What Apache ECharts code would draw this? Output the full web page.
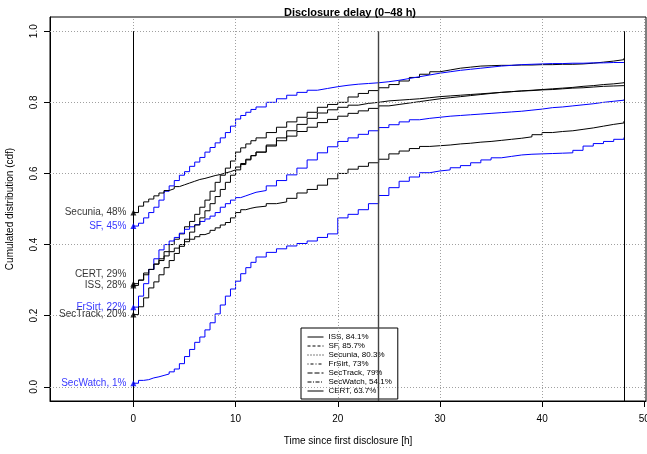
<!DOCTYPE html>
<html>
<head>
<meta charset="utf-8">
<script src="https://cdn.jsdelivr.net/npm/echarts@6/dist/echarts.min.js"></script>
<style>
  html, body { margin: 0; padding: 0; background: #fff; }
  #chart { width: 647px; height: 454px; }
</style>
</head>
<body>
<div id="chart"></div>
<script>
// hours since first disclosure
const hours = [0, 0.5, 1, 1.5, 2, 2.5, 3, 3.5, 4, 4.5, 5, 5.5, 6, 6.5, 7, 7.5, 8, 8.5, 9, 9.5, 10, 10.5, 11, 11.5, 12,
  13, 14, 15, 16, 17, 18, 19, 20, 21, 22, 23, 24,
  25, 26, 27, 28, 29, 30, 31, 32, 33, 34, 35, 36, 37, 38, 39, 40, 41, 42, 43, 44, 45, 46, 47, 48];

const names = ['ISS', 'SF', 'Secunia', 'FrSirt', 'SecTrack', 'SecWatch', 'CERT'];
const pctAtZero = [28, 45, 48, 22, 20, 1, 29];
const pctAt24 = ['84.1', '85.7', '80.3', '73', '79', '54.1', '63.7'];

const issCdf = [0.285, 0.30, 0.32, 0.33, 0.345, 0.36, 0.38, 0.40, 0.415, 0.43, 0.45, 0.465, 0.485, 0.505, 0.525, 0.55, 0.575, 0.595, 0.615, 0.635, 0.66, 0.672, 0.683, 0.692, 0.70,
  0.715, 0.73, 0.745, 0.758, 0.772, 0.786, 0.794, 0.80, 0.815, 0.825, 0.833, 0.841,
  0.85, 0.86, 0.87, 0.879, 0.886, 0.891, 0.896, 0.899, 0.902, 0.903, 0.904, 0.904, 0.905, 0.905, 0.906, 0.906, 0.907, 0.907, 0.908, 0.91, 0.913, 0.916, 0.92, 0.924];
const sfCdf = [0.452, 0.46, 0.475, 0.49, 0.505, 0.525, 0.55, 0.565, 0.58, 0.595, 0.605, 0.62, 0.632, 0.645, 0.66, 0.673, 0.686, 0.70, 0.715, 0.733, 0.753, 0.763, 0.772, 0.78, 0.787,
  0.80, 0.81, 0.82, 0.828, 0.834, 0.839, 0.844, 0.848, 0.851, 0.853, 0.855, 0.858,
  0.862, 0.867, 0.872, 0.877, 0.882, 0.886, 0.89, 0.893, 0.896, 0.899, 0.902, 0.904, 0.906, 0.907, 0.908, 0.909, 0.909, 0.91, 0.91, 0.911, 0.911, 0.912, 0.912, 0.913];
const secuniaCdf = [0.49, 0.508, 0.52, 0.528, 0.537, 0.545, 0.552, 0.557, 0.563, 0.568, 0.573, 0.578, 0.583, 0.586, 0.59, 0.594, 0.597, 0.601, 0.605, 0.61, 0.618, 0.628, 0.64, 0.65, 0.66,
  0.68, 0.70, 0.72, 0.738, 0.755, 0.77, 0.779, 0.786, 0.792, 0.797, 0.80, 0.804,
  0.806, 0.808, 0.81, 0.813, 0.816, 0.818, 0.82, 0.822, 0.824, 0.826, 0.828, 0.83, 0.832, 0.833, 0.835, 0.836, 0.838, 0.84, 0.841, 0.843, 0.845, 0.846, 0.847, 0.848];
const frsirtCdf = [0.224, 0.255, 0.29, 0.33, 0.36, 0.385, 0.40, 0.41, 0.42, 0.432, 0.443, 0.45, 0.456, 0.465, 0.472, 0.48, 0.49, 0.505, 0.515, 0.525, 0.532, 0.537, 0.542, 0.547, 0.552,
  0.565, 0.58, 0.596, 0.615, 0.638, 0.658, 0.675, 0.69, 0.70, 0.71, 0.72, 0.729,
  0.737, 0.745, 0.751, 0.755, 0.758, 0.761, 0.763, 0.765, 0.767, 0.769, 0.771, 0.773, 0.775, 0.778, 0.781, 0.785, 0.787, 0.79, 0.793, 0.796, 0.80, 0.803, 0.806, 0.808];
const sectrackCdf = [0.203, 0.225, 0.25, 0.278, 0.295, 0.315, 0.335, 0.355, 0.375, 0.395, 0.415, 0.435, 0.455, 0.475, 0.495, 0.515, 0.535, 0.555, 0.575, 0.595, 0.61, 0.625, 0.638, 0.65, 0.66,
  0.677, 0.692, 0.705, 0.718, 0.73, 0.743, 0.752, 0.761, 0.769, 0.776, 0.783, 0.79,
  0.794, 0.798, 0.802, 0.806, 0.81, 0.813, 0.816, 0.819, 0.822, 0.825, 0.828, 0.83, 0.832, 0.834, 0.836, 0.838, 0.84, 0.842, 0.845, 0.847, 0.85, 0.852, 0.855, 0.857];
const secwatchCdf = [0.01, 0.018, 0.02, 0.025, 0.028, 0.032, 0.036, 0.042, 0.05, 0.065, 0.085, 0.105, 0.125, 0.14, 0.16, 0.18, 0.205, 0.23, 0.255, 0.275, 0.297, 0.318, 0.335, 0.35, 0.365,
  0.378, 0.388, 0.396, 0.403, 0.41, 0.42, 0.43, 0.475, 0.485, 0.498, 0.515, 0.538,
  0.56, 0.578, 0.59, 0.602, 0.607, 0.61, 0.616, 0.622, 0.63, 0.638, 0.644, 0.648, 0.652, 0.654, 0.655, 0.656, 0.657, 0.658, 0.665, 0.677, 0.684, 0.69, 0.696, 0.701];
const certCdf = [0.29, 0.30, 0.315, 0.33, 0.345, 0.355, 0.368, 0.38, 0.39, 0.40, 0.408, 0.415, 0.422, 0.428, 0.433, 0.44, 0.447, 0.455, 0.462, 0.475, 0.49, 0.498, 0.502, 0.505, 0.508,
  0.515, 0.52, 0.53, 0.545, 0.555, 0.567, 0.585, 0.60, 0.612, 0.62, 0.63, 0.64,
  0.655, 0.663, 0.67, 0.676, 0.678, 0.68, 0.683, 0.685, 0.688, 0.69, 0.693, 0.696, 0.699, 0.703, 0.709, 0.715, 0.718, 0.72, 0.724, 0.728, 0.733, 0.738, 0.742, 0.747];

const cdfs = [issCdf, sfCdf, secuniaCdf, frsirtCdf, sectrackCdf, secwatchCdf, certCdf];

const xTicks = [0, 10, 20, 30, 40, 50];
const yTicks = [0, 0.2, 0.4, 0.6, 0.8, 1.0];
const markHours = [0, 24, 48];

// styles
const BLUE = '#0000ff';
const colors = { ISS: '#000', SF: BLUE, Secunia: '#000', FrSirt: BLUE, SecTrack: '#000', SecWatch: BLUE, CERT: '#000' };
const legendDash = {
  ISS: 'solid', SF: [3, 2], Secunia: [1, 2], FrSirt: [1, 2, 3, 2],
  SecTrack: [5, 2], SecWatch: [4, 1.5, 1, 1.5], CERT: 'solid'
};
const labelShift = { CERT: -9 };
const FONT = '"Liberation Sans", Arial, sans-serif';

const chart = echarts.init(document.getElementById('chart'));

const curveSeries = names.map((n, i) => ({
  name: n,
  type: 'line',
  step: 'end',
  symbol: 'none',
  z: 3,
  lineStyle: { color: colors[n], width: 1 },
  itemStyle: { color: colors[n] },
  data: hours.map((h, k) => [h, cdfs[i][k]])
}));

const gridLines = {
  type: 'line',
  data: [],
  silent: true,
  z: 1,
  markLine: {
    silent: true,
    symbol: 'none',
    label: { show: false },
    lineStyle: { color: '#a0a0a0', type: [1, 2], width: 1 },
    data: xTicks.map(v => ({ xAxis: v })).concat(yTicks.map(v => ({ yAxis: v })))
  }
};

const refLines = {
  type: 'line',
  data: [],
  silent: true,
  z: 2,
  markLine: {
    silent: true,
    symbol: 'none',
    label: { show: false },
    lineStyle: { color: '#000', type: 'solid', width: 1 },
    data: markHours.map(h => [
      { coord: [h, -0.04], lineStyle: { color: h === 24 ? '#444' : '#000', width: h === 24 ? 1.4 : 1 } },
      { coord: [h, 1] }
    ])
  }
};

const startMarks = {
  type: 'scatter',
  symbol: 'triangle',
  symbolSize: 6,
  z: 5,
  silent: true,
  data: names.map((n, i) => ({
    value: [0, cdfs[i][0]],
    itemStyle: { color: colors[n] },
    label: {
      show: true,
      position: 'left',
      distance: 4,
      offset: [0, labelShift[n] || 0],
      color: colors[n],
      fontFamily: FONT,
      fontSize: 10,
      formatter: n + ', ' + pctAtZero[i] + '%'
    }
  }))
};

const option = {
  animation: false,
  backgroundColor: '#fff',
  title: {
    text: 'Disclosure delay (0\u201348 h)',
    left: 345,
    top: 2,
    textAlign: 'center',
    textStyle: { fontFamily: FONT, fontSize: 11, fontWeight: 'bold', color: '#000' }
  },
  grid: {
    left: 50, right: 1, top: 17, bottom: 53,
    outerBoundsMode: 'none',
    containLabel: false,
    show: true, borderColor: '#000', borderWidth: 1
  },
  legend: {
    orient: 'vertical',
    left: 301,
    top: 328,
    padding: [5, 6, 4, 6],
    itemWidth: 16,
    itemHeight: 8,
    itemGap: 1,
    borderColor: '#000',
    borderWidth: 1,
    borderRadius: 0,
    backgroundColor: '#fff',
    selectedMode: false,
    textStyle: { fontFamily: FONT, fontSize: 8, color: '#000' },
    formatter: n => n + ', ' + pctAt24[names.indexOf(n)] + '%',
    data: names.map(n => ({
      name: n,
      itemStyle: { color: '#000', opacity: 0 },
      lineStyle: { color: '#000', type: legendDash[n], width: 1 }
    }))
  },
  xAxis: {
    type: 'value',
    min: -8.16,
    max: 50.16,
    name: 'Time since first disclosure [h]',
    nameLocation: 'middle',
    nameGap: 35,
    nameTextStyle: { fontFamily: FONT, fontSize: 10, color: '#000' },
    axisLine: { show: true, onZero: false, lineStyle: { color: '#000' } },
    axisTick: { show: true, length: 6, customValues: xTicks, lineStyle: { color: '#000' } },
    axisLabel: { customValues: xTicks, margin: 13, fontFamily: FONT, fontSize: 10, color: '#000' },
    splitLine: { show: false }
  },
  yAxis: {
    type: 'value',
    min: -0.04,
    max: 1.04,
    name: 'Cumulated distribution (cdf)',
    nameLocation: 'middle',
    nameGap: 35,
    nameTextStyle: { fontFamily: FONT, fontSize: 10, color: '#000' },
    axisLine: { show: true, onZero: false, lineStyle: { color: '#000' } },
    axisTick: { show: true, length: 6, customValues: yTicks, lineStyle: { color: '#000' } },
    axisLabel: {
      customValues: yTicks, rotate: 90, margin: 11,
      fontFamily: FONT, fontSize: 10, color: '#000',
      formatter: v => v.toFixed(1)
    },
    splitLine: { show: false }
  },
  series: [gridLines, refLines].concat(curveSeries, [startMarks])
};

chart.setOption(option);
</script>
</body>
</html>
